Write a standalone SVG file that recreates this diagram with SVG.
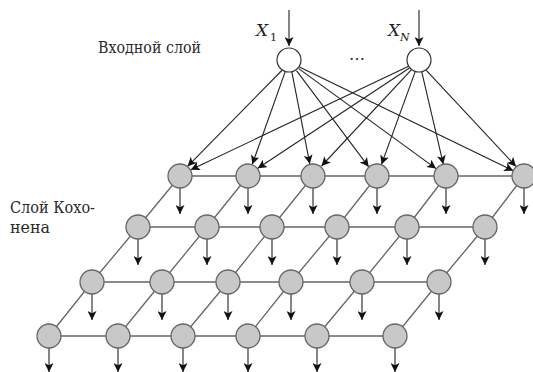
<svg xmlns="http://www.w3.org/2000/svg" width="533" height="372" viewBox="0 0 533 372">
<defs>
<marker id="ah" viewBox="0 0 10 10" refX="10" refY="5" markerWidth="9" markerHeight="9" markerUnits="userSpaceOnUse" orient="auto"><path d="M0,0 L10,5 L0,10 L2.5,5 z" fill="#111"/></marker>
</defs>
<style>
.lbl{font-family:"DejaVu Serif","Liberation Serif",serif;font-size:16px;fill:#2a2a2a}
.var{font-family:"DejaVu Serif","Liberation Serif",serif;font-style:italic;font-size:17px;fill:#222}
.sub{font-family:"DejaVu Serif","Liberation Serif",serif;font-size:11px;fill:#222}
.subi{font-family:"DejaVu Serif","Liberation Serif",serif;font-style:italic;font-size:11px;fill:#222}
.grid{stroke:#666;stroke-width:1.3;fill:none}
.arr{stroke:#222;stroke-width:1.1;fill:none;marker-end:url(#ah)}
.kn{fill:#c8c8c8;stroke:#666;stroke-width:1.3}
.in{fill:#fff;stroke:#333;stroke-width:1.2}
</style>
<rect width="533" height="372" fill="#fff"/>
<g id="labels">
<text class="lbl" x="98" y="53" textLength="103" lengthAdjust="spacingAndGlyphs">Входной слой</text>
<text class="lbl" x="10" y="213" textLength="85" lengthAdjust="spacingAndGlyphs">Слой Кохо-</text>
<text class="lbl" x="10" y="233" textLength="40" lengthAdjust="spacingAndGlyphs">нена</text>
<text class="var" x="256" y="36">X</text><text class="sub" x="270" y="41">1</text>
<text class="var" x="388" y="36">X</text><text class="subi" x="400" y="41">N</text>
<text class="lbl" x="349" y="60">…</text>
</g>
<g id="connectors">
<path class="grid" d="M180,176 H524 M138,227 H485 M92,282 H439 M49,336 H395"/>
<path class="grid" d="M180,176 L138,227 L92,282 L49,336 M248,176 L207,227 L162,282 L118,336 M313,176 L272,227 L228,282 L183,336 M377,176 L337,227 L291,282 L248,336 M446,176 L407,227 L362,282 L317,336 M524,176 L485,227 L439,282 L395,336"/>
<line class="arr" x1="289" y1="10" x2="289" y2="46"/>
<line class="arr" x1="419" y1="10" x2="419" y2="46"/>
<line class="arr" x1="282.3" y1="70" x2="187.6" y2="166.3"/>
<line class="arr" x1="285.3" y1="71.4" x2="252.3" y2="164.3"/>
<line class="arr" x1="291.8" y1="71.7" x2="309.8" y2="163.9"/>
<line class="arr" x1="296.5" y1="70.6" x2="368.7" y2="166.8"/>
<line class="arr" x1="298.7" y1="68.6" x2="436.0" y2="168.6"/>
<line class="arr" x1="299.4" y1="66.9" x2="513.3" y2="170.8"/>
<line class="arr" x1="408.6" y1="66.3" x2="190.8" y2="169.7"/>
<line class="arr" x1="409.5" y1="68.0" x2="257.8" y2="168.3"/>
<line class="arr" x1="411.3" y1="69.8" x2="321.5" y2="166.0"/>
<line class="arr" x1="415.3" y1="71.4" x2="381.5" y2="164.4"/>
<line class="arr" x1="421.7" y1="71.7" x2="443.3" y2="164.2"/>
<line class="arr" x1="426.1" y1="70.2" x2="516.0" y2="166.4"/>
<path class="arr" d="M180,188 V214"/><path class="arr" d="M248,188 V214"/><path class="arr" d="M313,188 V214"/><path class="arr" d="M377,188 V214"/><path class="arr" d="M446,188 V214"/><path class="arr" d="M524,188 V214"/>
<path class="arr" d="M138,239 V265"/><path class="arr" d="M207,239 V265"/><path class="arr" d="M272,239 V265"/><path class="arr" d="M337,239 V265"/><path class="arr" d="M407,239 V265"/><path class="arr" d="M485,239 V265"/>
<path class="arr" d="M92,294 V320"/><path class="arr" d="M162,294 V320"/><path class="arr" d="M228,294 V320"/><path class="arr" d="M291,294 V320"/><path class="arr" d="M362,294 V320"/><path class="arr" d="M439,294 V320"/>
<path class="arr" d="M49,348 V372"/><path class="arr" d="M118,348 V372"/><path class="arr" d="M183,348 V372"/><path class="arr" d="M248,348 V372"/><path class="arr" d="M317,348 V372"/><path class="arr" d="M395,348 V372"/>
</g>
<g id="in1"><circle class="in" cx="289" cy="60" r="12"/></g>
<g id="inN"><circle class="in" cx="419" cy="60" r="12"/></g>
<g id="r1c1"><circle class="kn" cx="180" cy="176" r="12"/></g>
<g id="r1c2"><circle class="kn" cx="248" cy="176" r="12"/></g>
<g id="r1c3"><circle class="kn" cx="313" cy="176" r="12"/></g>
<g id="r1c4"><circle class="kn" cx="377" cy="176" r="12"/></g>
<g id="r1c5"><circle class="kn" cx="446" cy="176" r="12"/></g>
<g id="r1c6"><circle class="kn" cx="524" cy="176" r="12"/></g>
<g id="r2c1"><circle class="kn" cx="138" cy="227" r="12"/></g>
<g id="r2c2"><circle class="kn" cx="207" cy="227" r="12"/></g>
<g id="r2c3"><circle class="kn" cx="272" cy="227" r="12"/></g>
<g id="r2c4"><circle class="kn" cx="337" cy="227" r="12"/></g>
<g id="r2c5"><circle class="kn" cx="407" cy="227" r="12"/></g>
<g id="r2c6"><circle class="kn" cx="485" cy="227" r="12"/></g>
<g id="r3c1"><circle class="kn" cx="92" cy="282" r="12"/></g>
<g id="r3c2"><circle class="kn" cx="162" cy="282" r="12"/></g>
<g id="r3c3"><circle class="kn" cx="228" cy="282" r="12"/></g>
<g id="r3c4"><circle class="kn" cx="291" cy="282" r="12"/></g>
<g id="r3c5"><circle class="kn" cx="362" cy="282" r="12"/></g>
<g id="r3c6"><circle class="kn" cx="439" cy="282" r="12"/></g>
<g id="r4c1"><circle class="kn" cx="49" cy="336" r="12"/></g>
<g id="r4c2"><circle class="kn" cx="118" cy="336" r="12"/></g>
<g id="r4c3"><circle class="kn" cx="183" cy="336" r="12"/></g>
<g id="r4c4"><circle class="kn" cx="248" cy="336" r="12"/></g>
<g id="r4c5"><circle class="kn" cx="317" cy="336" r="12"/></g>
<g id="r4c6"><circle class="kn" cx="395" cy="336" r="12"/></g>
</svg>
